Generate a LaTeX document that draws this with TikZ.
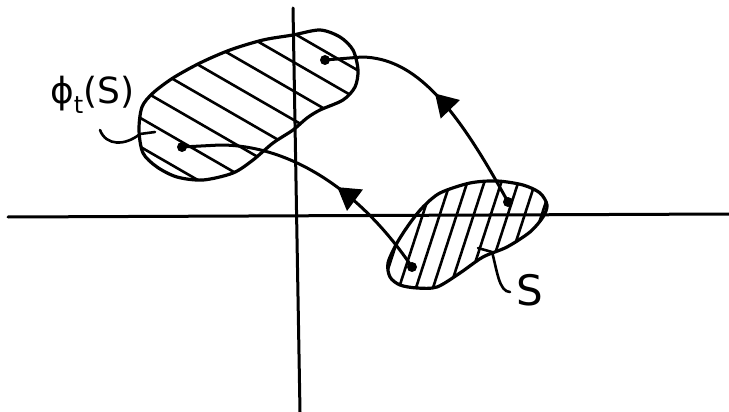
\documentclass[tikz,border=0pt]{standalone}
\usepackage{fontspec}
\newfontfamily\lblfont{DejaVu Sans}
\usetikzlibrary{arrows.meta,decorations.markings}
\begin{document}
\begin{tikzpicture}[x=1pt,y=-1pt,line cap=round,line join=round,
  axis/.style={line width=3pt},
  outline/.style={line width=3.2pt},
  hatch/.style={line width=2.6pt},
  traj/.style={line width=3pt},
  leader/.style={line width=2.6pt},
  dot/.style={circle,fill,inner sep=0pt,minimum size=10pt},
  lbl/.style={inner sep=0pt,font=\lblfont},
  arrowat/.style={postaction={decorate},decoration={markings,
    mark=at position #1 with {\arrow{Triangle[length=22pt,width=26pt]}}}}]
\useasboundingbox (0,0) rectangle (729,412);
% axes
\coordinate (xl) at (8,217);
\coordinate (xr) at (729,214);
\coordinate (yt) at (293,8);
\coordinate (yb) at (300,412);
\draw[axis] (xl) -- (xr);
\draw[axis] (yt) -- (yb);
% phi_t(S) region
\begin{scope}
\clip plot[smooth cycle] coordinates {(142,107) (153,93) (173,78) (200,63) (230,50) (263,40) (293,35) (320,30) (340,37) (353,50) (358,70) (355,87) (343,100) (320,110) (307,118) (293,130) (273,143) (253,160) (233,173) (203,180) (177,177) (157,167) (143,153) (139,130)};
\foreach \c in {-118,-93,...,60}
  \draw[hatch] ({-0.5*\c-0.866*600},{0.866*\c-0.5*600}) -- ({-0.5*\c+0.866*600},{0.866*\c+0.5*600});
\end{scope}
\draw[outline] plot[smooth cycle] coordinates {(142,107) (153,93) (173,78) (200,63) (230,50) (263,40) (293,35) (320,30) (340,37) (353,50) (358,70) (355,87) (343,100) (320,110) (307,118) (293,130) (273,143) (253,160) (233,173) (203,180) (177,177) (157,167) (143,153) (139,130)};
% S region
\begin{scope}
\clip plot[smooth cycle] coordinates {(397,243) (410,223) (423,207) (440,193) (470,183) (497,181) (523,185) (540,193) (547,205) (543,217) (530,232) (507,247) (483,257) (460,273) (437,287) (417,288) (400,285) (390,277) (388,263)};
\foreach \i in {0,...,10}
  \draw[hatch] ({388+17*\i-0.309*120},{217+0.951*120}) -- ({388+17*\i+0.309*120},{217-0.951*120});
\end{scope}
\draw[outline] plot[smooth cycle] coordinates {(397,243) (410,223) (423,207) (440,193) (470,183) (497,181) (523,185) (540,193) (547,205) (543,217) (530,232) (507,247) (483,257) (460,273) (437,287) (417,288) (400,285) (390,277) (388,263)};
% points
\node[dot] (s1) at (508,202) {};
\node[dot] (s2) at (412,267) {};
\node[dot] (p1) at (325,60) {};
\node[dot] (p2) at (182,147) {};
% trajectories
\draw[traj,arrowat=0.52] (s1.center) .. controls (455,105) and (415,58) .. (362,57) -- (p1.center);
\draw[traj,arrowat=0.40] (s2.center) .. controls (360,190) and (290,145) .. (220,145) -- (p2.center);
% labels
\node[lbl,anchor=base west] (lphi) at (50,103) {\fontsize{36}{36}\selectfont ϕ\raisebox{-10pt}{\fontsize{24}{24}\selectfont t}(S)};
\node[lbl,anchor=base] (ls) at (530,305) {\fontsize{42}{42}\selectfont S};
% leaders
\coordinate (a1) at (100,130);
\coordinate (a2) at (155,132);
\draw[leader] (a1) .. controls (106,146) and (125,146) .. (140,134) -- (a2);
\coordinate (b1) at (478,248);
\coordinate (b2) at (510,292);
\draw[leader] (b1) -- (492,252) .. controls (497,270) and (499,292) .. (b2);
\end{tikzpicture}
\end{document}
